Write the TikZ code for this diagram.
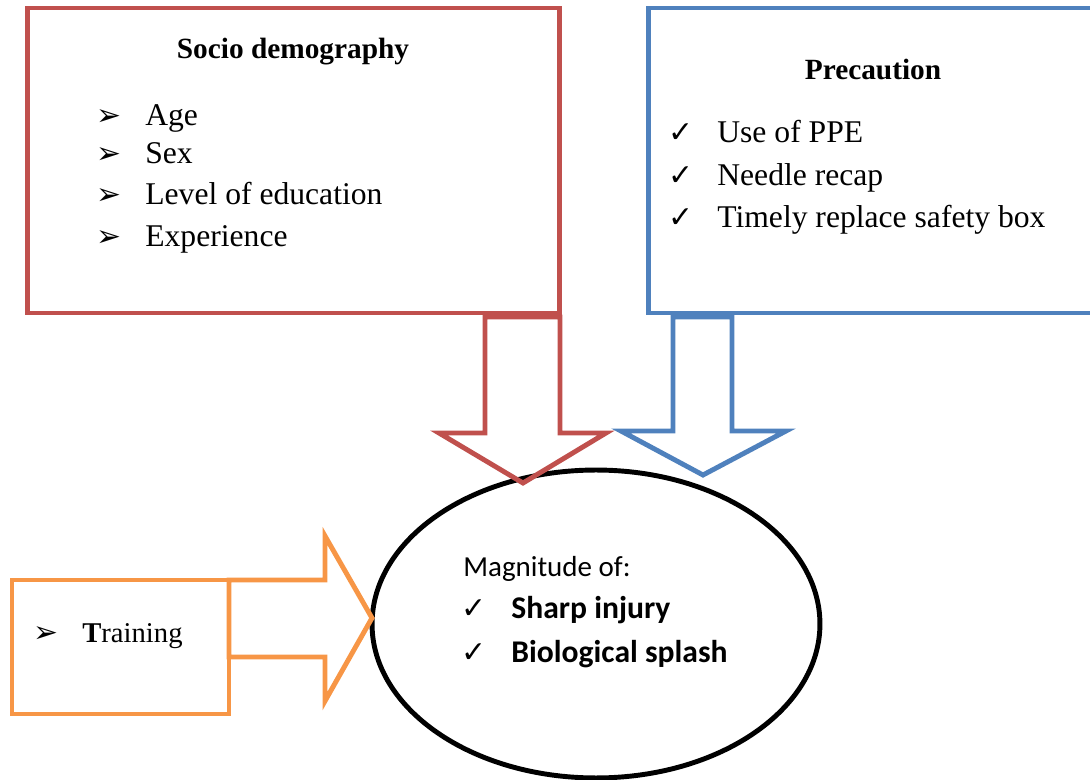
\documentclass[tikz,border=0pt]{standalone}
\usepackage{fontspec}
\usetikzlibrary{shapes.geometric}
\setmainfont{Liberation Serif}
\newfontfamily\calibrifont{Carlito}
\newfontfamily\dingfont{DejaVu Sans}
\newcommand{\arrowbullet}{{\dingfont\fontsize{17}{17}\selectfont ➢}}
\newcommand{\tickmark}{{\dingfont\fontsize{17}{17}\selectfont ✓}}

\definecolor{boxred}{HTML}{C0504D}
\definecolor{boxblue}{HTML}{4F81BD}
\definecolor{boxorange}{HTML}{F79646}

\tikzset{
  frame/.style={line width=2.8pt, inner sep=0pt},
  heading/.style={inner sep=0pt, font=\bfseries\fontsize{16.7}{20}\selectfont},
  itemtext/.style={anchor=base west, inner sep=0pt, font=\fontsize{18}{20}\selectfont},
  bulletsym/.style={anchor=base, inner sep=0pt},
  resulttext/.style={anchor=base west, inner sep=0pt, font=\calibrifont\fontsize{16.5}{18}\selectfont},
  resultbold/.style={resulttext, font=\calibrifont\bfseries\fontsize{18}{20}\selectfont}
}

\begin{document}
\begin{tikzpicture}[x=0.02cm,y=-0.02cm]
  \useasboundingbox (0,0) rectangle (1090,780);
  \clip (0,0) rectangle (1090,780);

  % boxes
  \node[frame, draw=boxred, minimum width=10.66cm, minimum height=6.1cm] (socio) at (293.5,160.5) {};
  \node[frame, draw=boxblue, minimum width=8.94cm, minimum height=6.1cm] (precaution) at (871.5,160.5) {};
  \node[frame, draw=boxorange, minimum width=4.34cm, minimum height=2.68cm] (training) at (120.5,647) {};
  \node[frame, draw=black, ellipse, minimum width=8.96cm, minimum height=6.16cm] (magnitude) at (596,624) {};

  % block arrows
  \draw[frame, draw=boxred] (485,317) -- (485,433) -- (439,433) -- (523,483)
    -- (606,433) -- (560,433) -- (560,317) -- cycle;
  \draw[frame, draw=boxblue] (673,317) -- (673,431) -- (621,431) -- (703,475)
    -- (786,431) -- (732,431) -- (732,317) -- cycle;
  \draw[frame, draw=boxorange] (229,580) -- (325,580) -- (325,536) -- (372,618)
    -- (325,701) -- (325,657) -- (229,657) -- cycle;

  % socio demography
  \node[heading] (sociotitle) at (293,52) {Socio demography};
  \node[bulletsym] (b1) at (109,126) {\arrowbullet};
  \node[itemtext] (age) at (145,126) {Age};
  \node[bulletsym] (b2) at (109,164) {\arrowbullet};
  \node[itemtext] (sex) at (145,164) {Sex};
  \node[bulletsym] (b3) at (109,205) {\arrowbullet};
  \node[itemtext] (edu) at (145,205) {Level of education};
  \node[bulletsym] (b4) at (109,247) {\arrowbullet};
  \node[itemtext] (exp) at (145,247) {Experience};

  % precaution
  \node[heading] (prectitle) at (873,70) {Precaution};
  \node[bulletsym] (c1) at (681,143) {\tickmark};
  \node[itemtext] (ppe) at (717,143) {Use of PPE};
  \node[bulletsym] (c2) at (681,186) {\tickmark};
  \node[itemtext] (recap) at (717,186) {Needle recap};
  \node[bulletsym] (c3) at (681,228) {\tickmark};
  \node[itemtext] (safety) at (717,228) {Timely replace safety box};

  % training
  \node[bulletsym] (b5) at (46,643) {\arrowbullet};
  \node[itemtext, font=\fontsize{16.3}{18}\selectfont] (train) at (82,643) {\textbf{T}raining};

  % magnitude
  \node[resulttext] (magtitle) at (463,577) {Magnitude of:};
  \node[bulletsym] (c4) at (474,619) {\tickmark};
  \node[resultbold] (sharp) at (511,619) {Sharp injury};
  \node[bulletsym] (c5) at (474,663) {\tickmark};
  \node[resultbold] (splash) at (511,663) {Biological splash};
\end{tikzpicture}
\end{document}
